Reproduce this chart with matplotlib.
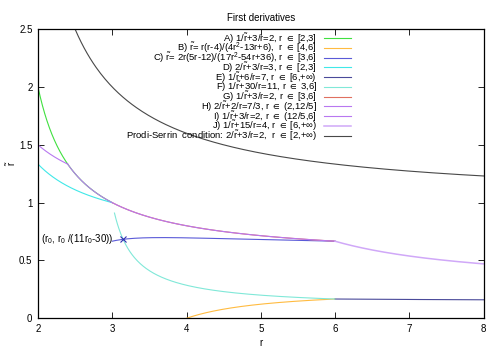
import numpy as np
import matplotlib
matplotlib.use("Agg")
import matplotlib.pyplot as plt

plt.rcParams["font.family"] = ["Liberation Sans", "DejaVu Sans"]
plt.rcParams["mathtext.fontset"] = "custom"
plt.rcParams["mathtext.rm"] = "Liberation Sans"
plt.rcParams["mathtext.it"] = "Liberation Sans"
plt.rcParams["mathtext.default"] = "regular"

# curves of the form a/r~ + b/r = c  ->  r~ = a*r / (c*r - b)
eq_names = ["A", "D", "E", "F", "G", "H", "I", "J", "PS"]
eq_a = [1, 2, 1, 1, 1, 2, 1, 1, 2]
eq_b = [3, 3, 6, 30, 3, 2, 3, 15, 3]
eq_c = [2, 3, 7, 11, 2, 7 / 3, 2, 4, 2]
eq_lo = [2, 2, 6, 3.03, 3, 2, 2.4, 6, 2]
eq_hi = [3, 3, 8, 6, 6, 2.4, 6, 8, 8]

# rational curves r~ = num(r) / den(r)
rat_names = ["B", "C"]
rat_num = [[1, -4, 0], [10, -24, 0]]
rat_den = [[4, -13, 6], [17, -54, 36]]
rat_lo = [4, 3]
rat_hi = [6, 6]

# intersection point of C and F
r0 = 3.146
r0_val = 0.683

legend_labels = {
    "A": r"A) 1/$\tilde{r}$+3/r=2, r $\in$ [2,3]",
    "B": r"B) $\tilde{r}$= r(r-4)/(4r$^2$-13r+6),  r $\in$ [4,6]",
    "C": r"C) $\tilde{r}$= 2r(5r-12)/(17r$^2$-54r+36), r $\in$ [3,6]",
    "D": r"D) 2/$\tilde{r}$+3/r=3, r $\in$ [2,3]",
    "E": r"E) 1/$\tilde{r}$+6/r=7, r $\in$ [6,+$\infty$)",
    "F": r"F) 1/$\tilde{r}$+30/r=11, r $\in$ 3,6]",
    "G": r"G) 1/$\tilde{r}$+3/r=2, r $\in$ [3,6]",
    "H": r"H) 2/$\tilde{r}$+2/r=7/3, r $\in$ (2,12/5]",
    "I": r"I) 1/$\tilde{r}$+3/r=2, r $\in$ (12/5,6]",
    "J": r"J) 1/$\tilde{r}$+15/r=4, r $\in$ [6,+$\infty$)",
    "PS": r"Prodi-Serrin  condition: 2/$\tilde{r}$+3/r=2,  r $\in$ [2,+$\infty$)",
}
order = ["A", "B", "C", "D", "E", "F", "G", "H", "I", "J", "PS"]
colors = {
    "A": "#40e040", "B": "#ffbb40", "C": "#5a5ad8", "D": "#40e8e8",
    "E": "#4a4a9a", "F": "#80e8d8", "G": "#e07060", "H": "#b878f0",
    "I": "#b878f0", "J": "#d0a8f8", "PS": "#484848",
}
widths = {k: 0.8 for k in order}
widths["J"] = 1.1

fig = plt.figure(figsize=(5, 3.5), dpi=100)
ax = fig.add_axes([0.076, 0.0906, 0.891, 0.826])

curves = {}
for n, a, b, c, lo, hi in zip(eq_names, eq_a, eq_b, eq_c, eq_lo, eq_hi):
    r = np.linspace(lo, hi, 300)
    curves[n] = (r, a * r / (c * r - b))
for n, num, den, lo, hi in zip(rat_names, rat_num, rat_den, rat_lo, rat_hi):
    r = np.linspace(lo, hi, 300)
    curves[n] = (r, np.polyval(num, r) / np.polyval(den, r))

for n in order:
    r, v = curves[n]
    ax.plot(r, v, color=colors[n], lw=widths[n])

ax.plot([r0], [r0_val], marker="x", color="#3030b0", ms=4, mew=0.8)
ax.text(r0 - 0.13, r0_val, r"(r$_0$, r$_0$ /(11r$_0$-30))", ha="right",
        va="center", fontsize=7)

# gnuplot-style key: right-aligned text, sample line to the right
for i, n in enumerate(order):
    yp = 38.3 + i * 9.74
    ya = (318.3 - yp) / 289.0
    ax.text(0.626, ya, legend_labels[n], transform=ax.transAxes, ha="right",
            va="center", fontsize=6.8)
    ax.plot([0.641, 0.703], [ya, ya], transform=ax.transAxes,
            color=colors[n], lw=widths[n], clip_on=False)

ax.set_xlim(2, 8)
ax.set_ylim(0, 2.5)
ax.set_xticks(range(2, 9))
ax.set_yticks([0, 0.5, 1, 1.5, 2, 2.5])
ax.set_yticklabels(["0", "0.5", "1", "1.5", "2", "2.5"])
ax.tick_params(direction="in", top=True, right=True, length=4, width=0.6,
               labelsize=7, pad=4)
for s in ax.spines.values():
    s.set_linewidth(0.9)
ax.set_title("First derivatives", fontsize=7, pad=6)
ax.set_xlabel("r", fontsize=7, labelpad=3)
ax.set_ylabel(r"$\tilde{r}$", fontsize=7)
ax.yaxis.set_label_coords(-0.045, 0.537)

fig.savefig("out.png", dpi=100)
